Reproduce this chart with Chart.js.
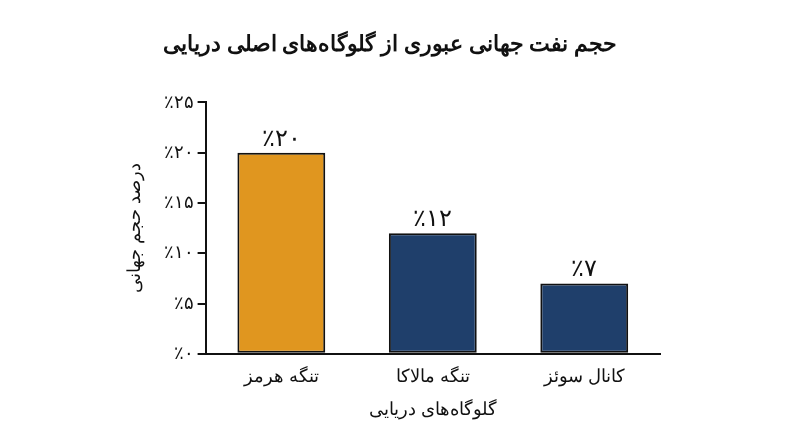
<!DOCTYPE html>
<html><head><meta charset="utf-8">
<script src="https://cdn.jsdelivr.net/npm/chart.js@4"></script>
<style>body{margin:0;background:#fff}#w{width:800px;height:447px}</style>
</head><body><div id="w"><canvas id="c"></canvas></div>
<script>
const categories = ['تنگه هرمز', 'تنگه مالاکا', 'کانال سوئز'];
const values = [20, 12, 7];
const valueLabels = ['٪۲۰', '٪۱۲', '٪۷'];
const tickLabels = {0:'٪۰',5:'٪۵',10:'٪۱۰',15:'٪۱۵',20:'٪۲۰',25:'٪۲۵'};
const colors = ['#E0961F', '#1F3F6B', '#1F3F6B'];
const F = "'Noto Sans', sans-serif";
const labelPlugin = {
  id:'lbl',
  afterDatasetsDraw(ch){
    const ctx = ch.ctx, meta = ch.getDatasetMeta(0);
    ctx.save(); ctx.font = '24px '+F; ctx.fillStyle='#111'; ctx.textAlign='center'; ctx.textBaseline='bottom';
    meta.data.forEach((b,i)=>ctx.fillText(valueLabels[i], b.x, b.y-2));
    ctx.restore();
  }
};
new Chart(document.getElementById('c'), {
  type:'bar',
  data:{labels:categories, datasets:[{data:values, backgroundColor:colors, borderColor:'#111', borderWidth:2, borderSkipped:false, barPercentage:0.58, categoryPercentage:1}]},
  options:{
    responsive:true, maintainAspectRatio:false, animation:false,
    layout:{padding:{left:120,right:140,top:10,bottom:26}},
    plugins:{legend:{display:false}, tooltip:{enabled:false},
      title:{display:true, text:'حجم نفت جهانی عبوری از گلوگاه‌های اصلی دریایی', font:{family:F,size:22,weight:'bold'}, color:'#111', padding:{top:22,bottom:44}}},
    scales:{
      x:{grid:{display:false, drawTicks:false}, border:{color:'#111',width:2},
        ticks:{font:{family:F,size:18}, color:'#111', padding:12},
        title:{display:true,text:'گلوگاه‌های دریایی',font:{family:F,size:18},color:'#111',padding:{top:0,bottom:0}}},
      y:{min:0,max:25, grid:{display:true, drawOnChartArea:false, tickLength:8, color:'#111', lineWidth:2}, border:{color:'#111',width:2},
        ticks:{stepSize:5, font:{family:F,size:18}, color:'#111', padding:4, callback:v=>tickLabels[v]},
        title:{display:true,text:'درصد حجم جهانی',font:{family:F,size:18},color:'#111',padding:{bottom:14}}}
    }
  },
  plugins:[labelPlugin]
});
</script></body></html>
